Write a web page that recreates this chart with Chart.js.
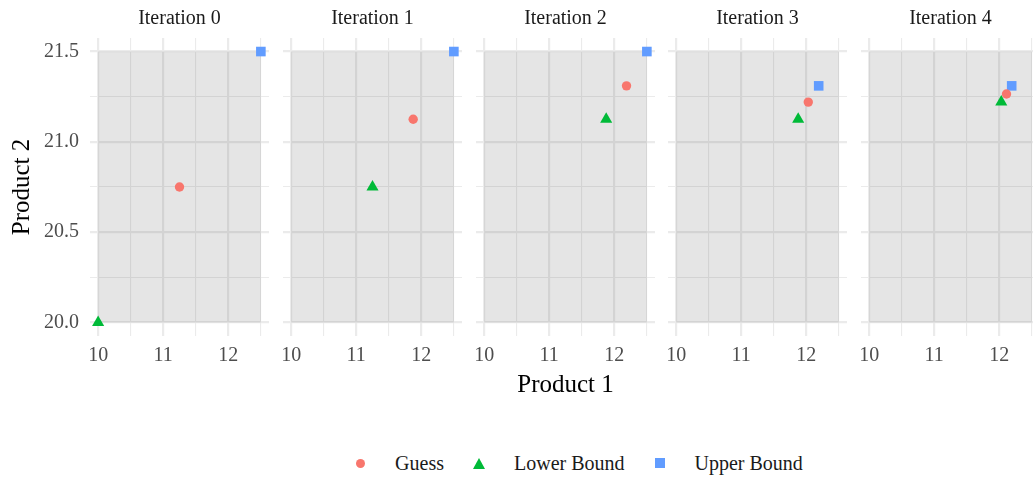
<!DOCTYPE html>
<html>
<head>
<meta charset="utf-8">
<script src="https://cdn.jsdelivr.net/npm/chart.js@4.4.1/dist/chart.umd.min.js"></script>
<style>
    body { margin: 0; background: #fff; overflow: hidden; }
    #wrap {
        position: relative; width: 1033px; height: 479px; overflow: hidden;
        font-family: 'Liberation Serif', 'Times New Roman', serif;
    }
    #wrap canvas { position: absolute; top: 0; }
    #legend {
        position: absolute; top: 451px; left: 125px; width: 906px; height: 24px;
        display: flex; justify-content: center; align-items: center;
        font-size: 20px; color: #1a1a1a;
    }
    .item { display: flex; align-items: center; margin: 0 14px; }
    .key { width: 14px; height: 14px; display: flex; align-items: center; justify-content: center; margin-right: 28px; }
    .dot { width: 9px; height: 9px; border-radius: 50%; background: #F8766D; }
    .tri { width: 0; height: 0; border-left: 6px solid transparent; border-right: 6px solid transparent; border-bottom: 11px solid #00BA38; }
    .sq { width: 10px; height: 10px; background: #619CFF; }
</style>
</head>
<body>
<div id="wrap">
    <div id="legend"></div>
</div>
<script>
// facets
const iterations = ['Iteration 0', 'Iteration 1', 'Iteration 2', 'Iteration 3', 'Iteration 4'];

// series values, one entry per iteration
const guessX = [11.25, 11.875, 12.1875, 12.03, 12.11];
const guessY = [20.75, 21.125, 21.31, 21.22, 21.265];
const lowerX = [10, 11.25, 11.875, 11.875, 12.03];
const lowerY = [20, 20.75, 21.125, 21.125, 21.22];
const upperX = [12.5, 12.5, 12.5, 12.19, 12.19];
const upperY = [21.5, 21.5, 21.5, 21.31, 21.31];

// axes
const xLimits = [9.875, 12.625];
const yLimits = [19.925, 21.575];
const xBreaks = [10, 10.5, 11, 11.5, 12, 12.5];
const yBreaks = [20, 20.25, 20.5, 20.75, 21, 21.25, 21.5];
const xLabelled = [10, 11, 12];
const yLabelled = [20, 20.5, 21, 21.5];

// shaded search region
const shadeX = [10, 12.5];
const shadeY = [20, 21.5];

const seriesNames = ['Guess', 'Lower Bound', 'Upper Bound'];
const colors = { guess: '#F8766D', lower: '#00BA38', upper: '#619CFF' };

const fontFamily = "'Liberation Serif', 'Times New Roman', serif";
const panelLeft0 = 90;
const panelStep = 192.8;
const panelWidth = 179;
const yAxisWidth = 90;
const canvasHeight = 400;
const xAxisHeight = 64;

// grey rectangle behind the points, over the grid
const panelShade = {
    id: 'panelShade',
    beforeDatasetsDraw(chart) {
        const { ctx, scales: { x, y } } = chart;
        const x0 = x.getPixelForValue(shadeX[0]);
        const x1 = x.getPixelForValue(shadeX[1]);
        const y0 = y.getPixelForValue(shadeY[1]);
        const y1 = y.getPixelForValue(shadeY[0]);
        ctx.save();
        ctx.fillStyle = 'rgba(0, 0, 0, 0.1)';
        ctx.fillRect(x0, y0, x1 - x0, y1 - y0);
        ctx.restore();
    }
};

// no extra room for labels hanging over the panel edges
function noEdgePadding(s) {
    s.paddingLeft = 0;
    s.paddingRight = 0;
    s.paddingTop = 0;
    s.paddingBottom = 0;
}

const wrap = document.getElementById('wrap');

function makePanel(i) {
    const first = i === 0;
    const canvas = document.createElement('canvas');
    const width = panelWidth + (first ? yAxisWidth : 0);
    canvas.width = width;
    canvas.height = canvasHeight;
    canvas.style.left = (Math.round(panelLeft0 + i * panelStep) - (first ? yAxisWidth : 0)) + 'px';
    wrap.appendChild(canvas);

    new Chart(canvas, {
        type: 'scatter',
        data: {
            datasets: [
                {
                    label: seriesNames[0],
                    data: [{ x: guessX[i], y: guessY[i] }],
                    pointStyle: 'circle',
                    pointRadius: 4.7,
                    backgroundColor: colors.guess,
                    borderWidth: 0,
                    order: 1
                },
                {
                    label: seriesNames[1],
                    data: [{ x: lowerX[i], y: lowerY[i] }],
                    pointStyle: 'triangle',
                    pointRadius: 7,
                    backgroundColor: colors.lower,
                    borderWidth: 0,
                    order: 0
                },
                {
                    label: seriesNames[2],
                    data: [{ x: upperX[i], y: upperY[i] }],
                    pointStyle: 'rect',
                    pointRadius: 6.8,
                    backgroundColor: colors.upper,
                    borderWidth: 0,
                    order: 2
                }
            ]
        },
        options: {
            responsive: false,
            animation: false,
            layout: { padding: 0, autoPadding: false },
            plugins: {
                legend: { display: false },
                tooltip: { enabled: false },
                title: {
                    display: true,
                    text: iterations[i],
                    fullSize: false,
                    color: '#1a1a1a',
                    font: { family: fontFamily, size: 20, weight: 'normal', lineHeight: 1.2 },
                    padding: { top: 7, bottom: 7 }
                }
            },
            scales: {
                x: {
                    type: 'linear',
                    min: xLimits[0],
                    max: xLimits[1],
                    afterBuildTicks: s => { s.ticks = xBreaks.map(v => ({ value: v })); },
                    afterFit: s => { s.height = xAxisHeight; noEdgePadding(s); },
                    border: { display: false },
                    grid: {
                        color: '#ebebeb',
                        drawTicks: false,
                        lineWidth: c => xLabelled.includes(c.tick.value) ? 2.2 : 1.1
                    },
                    ticks: {
                        color: '#4d4d4d',
                        padding: 8,
                        maxRotation: 0,
                        autoSkip: false,
                        font: { family: fontFamily, size: 20 },
                        callback: v => xLabelled.includes(v) ? String(v) : ''
                    },
                    title: {
                        display: i === 2,
                        text: 'Product 1',
                        color: '#000',
                        font: { family: fontFamily, size: 25 },
                        padding: { top: 0, bottom: 0 }
                    }
                },
                y: {
                    type: 'linear',
                    min: yLimits[0],
                    max: yLimits[1],
                    afterBuildTicks: s => { s.ticks = yBreaks.map(v => ({ value: v })); },
                    afterFit: s => { s.width = first ? yAxisWidth : 0; noEdgePadding(s); },
                    border: { display: false },
                    grid: {
                        color: '#ebebeb',
                        drawTicks: false,
                        lineWidth: c => yLabelled.includes(c.tick.value) ? 2.2 : 1.1
                    },
                    ticks: {
                        display: first,
                        color: '#4d4d4d',
                        padding: 11,
                        autoSkip: false,
                        font: { family: fontFamily, size: 20 },
                        callback: v => yLabelled.includes(v) ? v.toFixed(1) : ''
                    },
                    title: {
                        display: first,
                        text: 'Product 2',
                        color: '#000',
                        font: { family: fontFamily, size: 25 },
                        padding: { top: 7, bottom: 0 }
                    }
                }
            }
        },
        plugins: [panelShade]
    });
}

iterations.forEach((_, i) => makePanel(i));

// legend
const legendKeys = ['dot', 'tri', 'sq'];
const legend = document.getElementById('legend');
seriesNames.forEach((name, k) => {
    const item = document.createElement('div');
    item.className = 'item';
    item.innerHTML = '<span class="key"><span class="' + legendKeys[k] + '"></span></span><span>' + name + '</span>';
    legend.appendChild(item);
});
</script>
</body>
</html>
